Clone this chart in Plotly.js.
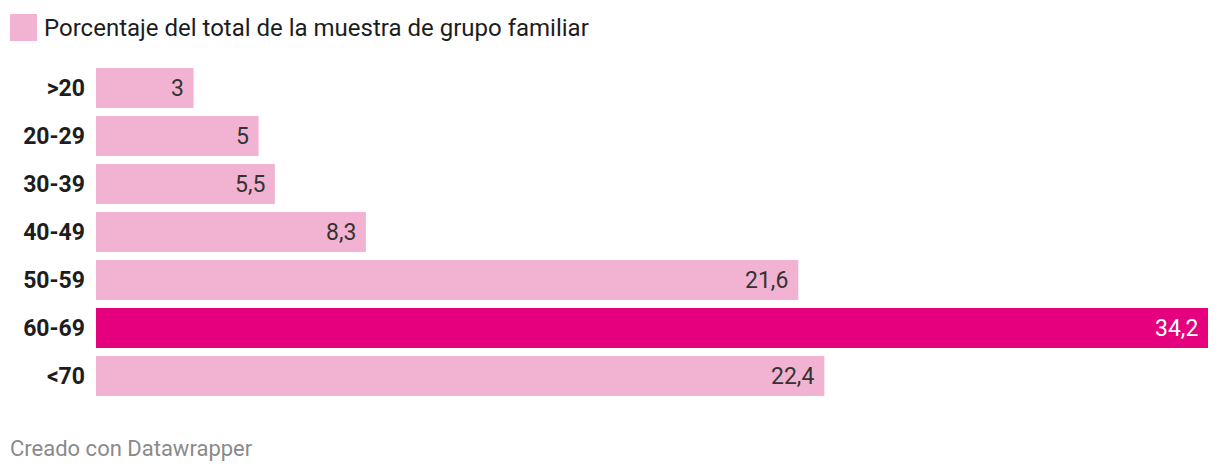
<!DOCTYPE html>
<html><head><meta charset="utf-8">
<script src="https://cdn.plot.ly/plotly-3.0.1.min.js"></script>
<style>html,body{margin:0;padding:0;background:#fff}#c{width:1220px;height:474px}</style>
</head><body><div id="c"></div>
<script>
const categories = [">20","20-29","30-39","40-49","50-59","60-69","<70"];
const values = [3,5,5.5,8.3,21.6,34.2,22.4];
const highlight = "60-69";
const legendLabel = "Porcentaje del total de la muestra de grupo familiar";
const footer = "Creado con Datawrapper";

const LIGHT = "#f2b3d2", DARK = "#e5007d";
const colors = categories.map(c => c === highlight ? DARK : LIGHT);
const fmt = v => String(v).replace(".", ",");

const annotations = categories.map((c,i) => ({
  x: values[i], y: c, xref: "x", yref: "y", text: fmt(values[i]),
  xanchor: "right", yanchor: "middle", xshift: -8, showarrow: false,
  font: {family: "Roboto", size: 23, color: c === highlight ? "#ffffff" : "#333333"}
}));
annotations.push({
  x: 42, y: 28, xref: "paper", yref: "paper", text: legendLabel, showarrow: false,
  xanchor: "left", yanchor: "middle",
  font: {family: "Roboto", size: 24, color: "#1d1d1d"}
});
annotations.push({
  x: 8, y: 448, xref: "paper", yref: "paper", text: footer, showarrow: false,
  xanchor: "left", yanchor: "middle",
  font: {family: "Roboto", size: 22, color: "#8a8a8a"}
});

const W = 1220, H = 474, L = 96, R = 12, T = 64, B = 74;
annotations.forEach(a => {
  if (a.xref === "paper") {
    a.x = (a.x - L) / (W - L - R);
    a.y = 1 - (a.y - T) / (H - T - B);
  }
});

const trace = {
  type: "bar", orientation: "h", x: values, y: categories,
  marker: {color: colors}, hoverinfo: "none", width: 0.833
};

const layout = {
  width: W, height: H,
  margin: {l: L, r: R, t: T, b: B},
  paper_bgcolor: "#fff", plot_bgcolor: "#fff",
  showlegend: false,
  xaxis: {range: [0, 34.2], showgrid: false, zeroline: false, showticklabels: false, fixedrange: true},
  yaxis: {autorange: "reversed", categoryorder: "array", categoryarray: categories,
    showgrid: false, zeroline: false, ticks: "", ticklabelstandoff: 10,
    tickfont: {family: "Roboto", size: 23, color: "#1d1d1d", weight: "bold"}},
  shapes: [{type: "rect", xref: "paper", yref: "paper",
    x0: (10 - L) / (W - L - R), x1: (37 - L) / (W - L - R),
    y0: 1 - (14 - T) / (H - T - B), y1: 1 - (41 - T) / (H - T - B),
    fillcolor: LIGHT, line: {width: 0}}],
  annotations: annotations
};
Plotly.newPlot("c", [trace], layout, {displayModeBar: false, staticPlot: true});
</script></body></html>
